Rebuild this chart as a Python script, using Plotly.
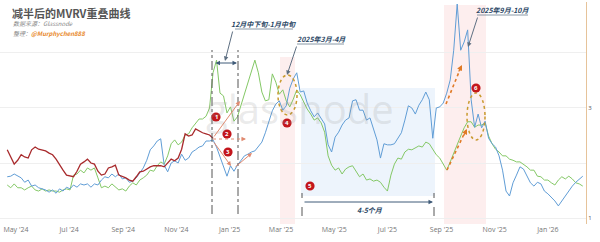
import pandas as pd
import plotly.graph_objects as go

# ---------------- data (MVRV, sampled every 4 days after halving) ----------------
START = "2024-04-21"
FREQ = "4D"

blue_vals = [1.75, 1.76, 1.80, 1.76, 1.73, 1.65, 1.69, 1.58, 1.60, 1.55, 1.53, 1.51, 1.47, 1.51, 1.45,
             1.53, 1.49, 1.56, 1.53, 1.60, 1.56, 1.62, 1.60, 1.62, 1.56, 1.62, 1.60, 1.69, 1.75, 1.73,
             1.80, 1.75, 1.80, 1.71, 1.73, 1.65, 1.67, 1.73, 1.82, 1.91, 2.05, 2.24, 2.31, 2.40, 2.44,
             1.96, 1.84, 2.00, 2.04, 2.00, 2.16, 2.05, 2.09, 2.20, 2.24, 2.29, 2.31, 2.40, 2.40, 2.42,
             2.29, 2.11, 1.96, 1.76, 1.95, 1.85, 1.96, 2.05, 2.13, 2.16, 2.20, 2.22, 2.29, 2.38, 2.55,
             2.75, 2.95, 3.07, 3.13, 2.96, 3.04, 3.36, 3.53, 3.64, 3.29, 3.31, 3.09, 2.95, 2.84, 2.91,
             2.82, 2.71, 2.33, 2.20, 2.47, 2.56, 2.69, 2.78, 2.82, 3.13, 3.15, 2.96, 2.96, 2.78, 2.82,
             2.64, 2.42, 2.09, 2.35, 2.33, 2.33, 2.35, 2.45, 2.55, 2.78, 3.04, 3.00, 2.89, 3.05, 3.15,
             3.29, 3.15, 2.45, 3.00, 3.02, 3.09, 3.27, 3.51, 4.05, 4.89, 4.05, 4.20, 4.42, 3.15, 2.65,
             2.89, 2.64, 2.76, 2.45, 2.35, 2.29, 2.13, 1.87, 1.49, 1.40, 1.64, 1.78, 1.93, 1.89, 1.76,
             1.64, 1.58, 1.65, 1.62, 1.49, 1.44, 1.38, 1.31, 1.22, 1.31, 1.40, 1.51, 1.58, 1.65, 1.71,
             1.76]

green_vals = [1.60, 1.55, 1.62, 1.55, 1.55, 1.51, 1.55, 1.58, 1.51, 1.49, 1.53, 1.49, 1.51, 1.49, 1.49,
              1.47, 1.51, 1.53, 1.51, 1.78, 1.80, 1.87, 1.82, 1.91, 1.87, 1.91, 1.73, 1.55, 1.58, 1.55,
              1.62, 1.56, 1.51, 1.53, 1.49, 1.58, 1.64, 1.60, 1.69, 1.73, 1.78, 1.87, 1.85, 1.95, 2.02,
              1.98, 2.13, 2.35, 2.42, 2.33, 2.38, 2.51, 2.53, 2.64, 2.71, 2.80, 2.80, 2.85, 3.00, 3.64,
              3.87, 3.27, 3.22, 2.91, 3.02, 2.76, 2.84, 3.04, 3.24, 3.44, 3.64, 3.87, 3.64, 3.29, 3.13,
              3.15, 3.62, 3.47, 3.25, 3.33, 3.13, 3.02, 3.16, 3.33, 3.24, 3.11, 2.98, 2.89, 2.78, 2.82,
              2.73, 2.56, 2.13, 1.96, 1.87, 1.91, 1.80, 1.89, 1.93, 1.95, 1.84, 1.75, 1.80, 1.69, 1.71,
              1.67, 1.69, 1.65, 1.56, 1.49, 1.78, 1.98, 2.09, 2.07, 2.20, 2.25, 2.24, 2.27, 2.31, 2.29,
              2.38, 2.35, 2.24, 2.15, 2.09, 1.98, 1.87, 2.02, 2.18, 2.36, 2.49, 2.64, 2.75, 2.75, 2.65,
              2.69, 2.69, 2.73, 2.49, 2.35, 2.25, 2.20, 2.13, 2.13, 2.07, 2.05, 2.02, 2.02, 1.98, 1.93,
              1.87, 1.87, 1.76, 1.75, 1.69, 1.69, 1.64, 1.60, 1.69, 1.75, 1.71, 1.76, 1.71, 1.64, 1.62,
              1.58]

red_vals = [2.24, 2.11, 1.98, 2.05, 2.15, 2.11, 2.09, 2.24, 2.29, 2.25, 2.24, 2.22, 2.18, 2.15, 2.07,
            1.96, 1.87, 1.78, 1.76, 1.75, 1.85, 1.98, 2.02, 2.07, 2.00, 1.98, 1.85, 1.78, 1.80, 1.91,
            1.93, 1.96, 1.78, 1.76, 1.73, 1.69, 1.67, 1.75, 1.84, 1.85, 1.89, 1.93, 1.95, 1.95, 1.95,
            1.93, 2.00, 2.07, 2.04, 2.09, 2.25, 2.53, 2.49, 2.51, 2.62, 2.58, 2.55, 2.53, 2.51, 2.45]

x_range = ["2024-04-12 17:00", "2026-02-13 17:00"]
y_range = [0.891, 4.927]
y_ticks = [1, 2, 3, 4]
y_ticktext = ["1", "", "3", ""]

# ---------------- layout helpers ----------------
W, H = 600, 242
ML, MR, MT, MB = 0, 14, 2, 18
PW, PH = W - ML - MR, H - MT - MB


def px(x):
    return (x - ML) / PW


def py(y):
    return (H - MB - y) / PH


fig = go.Figure()
for vals, color, width in [(green_vals, "#84c866", 1.0),
                           (blue_vals, "#609dd6", 1.0),
                           (red_vals, "#a82a2c", 1.3)]:
    fig.add_trace(go.Scatter(x=pd.date_range(START, periods=len(vals), freq=FREQ), y=vals,
                             mode="lines", line=dict(color=color, width=width),
                             hoverinfo="skip", showlegend=False))

shapes = []
annos = []

# background bands
shapes.append(dict(type="rect", xref="paper", yref="paper", x0=px(280), x1=px(295), y0=py(224), y1=py(57),
                   fillcolor="rgba(251,222,222,0.5)", line=dict(width=0), layer="below"))
shapes.append(dict(type="rect", xref="paper", yref="paper", x0=px(444), x1=px(486), y0=py(224), y1=py(5),
                   fillcolor="rgba(251,222,222,0.5)", line=dict(width=0), layer="below"))
shapes.append(dict(type="rect", xref="paper", yref="paper", x0=px(301), x1=px(435), y0=py(196), y1=py(88),
                   fillcolor="rgba(214,230,248,0.45)", line=dict(width=0), layer="below"))

# dash-dot vertical markers
for xx in (212, 238):
    shapes.append(dict(type="line", xref="paper", yref="paper", x0=px(xx), x1=px(xx), y0=py(214), y1=py(50),
                       line=dict(color="#555555", width=1, dash="dashdot")))
for xx in (302, 434):
    shapes.append(dict(type="line", xref="paper", yref="paper", x0=px(xx), x1=px(xx), y0=py(216), y1=py(193),
                       line=dict(color="#555555", width=1, dash="dash")))

# dotted ellipses
shapes.append(dict(type="circle", xref="paper", yref="paper", x0=px(278), x1=px(297), y0=py(115), y1=py(75),
                   line=dict(color="#c99a2e", width=1.5, dash="dot")))
shapes.append(dict(type="circle", xref="paper", yref="paper", x0=px(467), x1=px(485), y0=py(140), y1=py(93),
                   line=dict(color="#c99a2e", width=1.5, dash="dot")))

# underlines for callout labels
for x0, x1, yy in [(235, 293, 29), (297, 344, 44), (477, 528, 15)]:
    shapes.append(dict(type="line", xref="paper", yref="paper", x0=px(x0), x1=px(x1), y0=py(yy), y1=py(yy),
                       line=dict(color="#6b7d90", width=0.8)))

# dotted orange trend arrows (line part)
for (x0, y0, x1, y1) in [(446, 104, 461, 67), (447, 170, 466, 130)]:
    shapes.append(dict(type="line", xref="paper", yref="paper", x0=px(x0), x1=px(x1), y0=py(y0), y1=py(y1),
                       line=dict(color="#e07a26", width=1.6, dash="dot")))

# salmon arrows near markers 1-3 (lines)
shapes.append(dict(type="line", xref="paper", yref="paper", x0=px(213), x1=px(244), y0=py(139), y1=py(139),
                   line=dict(color="#e08a70", width=1, dash="dot")))


def arrow(tail, head, color, width=1.0, size=0.9, side="end", head_style=2):
    annos.append(dict(x=px(head[0]), y=py(head[1]), xref="paper", yref="paper",
                      ax=tail[0] - head[0], ay=tail[1] - head[1], axref="pixel", ayref="pixel",
                      text="", showarrow=True, arrowhead=head_style, arrowsize=size,
                      arrowwidth=width, arrowcolor=color, arrowside=side, startarrowhead=head_style,
                      startarrowsize=size))


# callout arrows
arrow((233, 30), (225, 61), "#5e6f82")
arrow((297, 45), (287, 75), "#5e6f82")
arrow((478, 16), (468, 47), "#5e6f82")
arrow((214, 63), (237, 63), "#3f5b78", side="end+start")
arrow((303, 202), (433, 202), "#3f5b78")
arrow((213, 138), (240, 101), "#e08a70")
arrow((240, 139), (246, 139), "#e08a70")
arrow((213, 141), (231, 166), "#e08a70")
arrow((234, 168), (252, 153), "#e08a70")
arrow((458, 73), (462, 65), "#e07a26", width=1.2)
arrow((463, 137), (467, 129), "#e07a26", width=1.2)

# watermark (drawn first so badges sit on top)
annos.insert(0, dict(x=px(300), y=py(108), xref="paper", yref="paper", text="glassnode", showarrow=False,
                     font=dict(size=40, color="rgba(150,150,150,0.2)", family="Open Sans"),
                     xanchor="center", yanchor="middle"))

# numbered red badges
for num, (bx, by) in enumerate([(216, 117), (227, 134), (228, 152), (287, 123), (310, 186), (476, 88)], 1):
    r = 4.6
    shapes.append(dict(type="circle", xref="paper", yref="paper", x0=px(bx - r), x1=px(bx + r),
                       y0=py(by + r), y1=py(by - r), fillcolor="#c3161c", line=dict(color="#c3161c", width=0)))
    annos.append(dict(x=px(bx), y=py(by), xref="paper", yref="paper", text=f"<b>{num}</b>", showarrow=False,
                      font=dict(size=6, color="white", family="Open Sans"), xanchor="center", yanchor="middle"))

LABEL_FONT = dict(size=7, color="#2c4866", family="Noto Sans CJK SC")
for txt, cx, cy in [("12月中下旬-1月中旬", 263, 24), ("2025年3月-4月", 321, 39),
                    ("2025年9月-10月", 503, 10), ("4-5个月", 370, 210)]:
    annos.append(dict(x=px(cx), y=py(cy), xref="paper", yref="paper", text=f"<b><i>{txt}</i></b>",
                      showarrow=False, font=LABEL_FONT, xanchor="center", yanchor="middle"))

# title block
annos.append(dict(x=px(10), y=py(13), xref="paper", yref="paper", text="<b>减半后的MVRV重叠曲线</b>",
                  showarrow=False, xanchor="left", yanchor="middle",
                  font=dict(size=11, color="#555555", family="Noto Sans CJK SC")))
annos.append(dict(x=px(11), y=py(24), xref="paper", yref="paper", text="<i>数据来源：Glassnode</i>",
                  showarrow=False, xanchor="left", yanchor="middle",
                  font=dict(size=6, color="#888888", family="Noto Sans CJK SC")))
annos.append(dict(x=px(11), y=py(34), xref="paper", yref="paper",
                  text="<i>整理：</i><b><i><span style='color:#e8892b'>@Murphychen888</span></i></b>",
                  showarrow=False, xanchor="left", yanchor="middle",
                  font=dict(size=6, color="#888888", family="Noto Sans CJK SC")))

fig.update_layout(
    width=W, height=H, margin=dict(l=ML, r=MR, t=MT, b=MB),
    paper_bgcolor="white", plot_bgcolor="white",
    shapes=shapes, annotations=annos, showlegend=False,
    xaxis=dict(range=x_range, type="date", tick0="2024-05-01", dtick="M2", tickformat="%b '%y",
               showgrid=False, zeroline=False, showline=False, ticks="",
               tickfont=dict(size=7, color="#777777", family="Open Sans")),
    yaxis=dict(range=y_range, side="right", tickvals=y_ticks, ticktext=y_ticktext,
               showgrid=True, gridcolor="#efefef", gridwidth=1, zeroline=False,
               showline=True, linecolor="#e6c39a", linewidth=1, ticks="",
               tickfont=dict(size=6, color="#555555", family="Open Sans")),
)

fig.write_html("out.html")
